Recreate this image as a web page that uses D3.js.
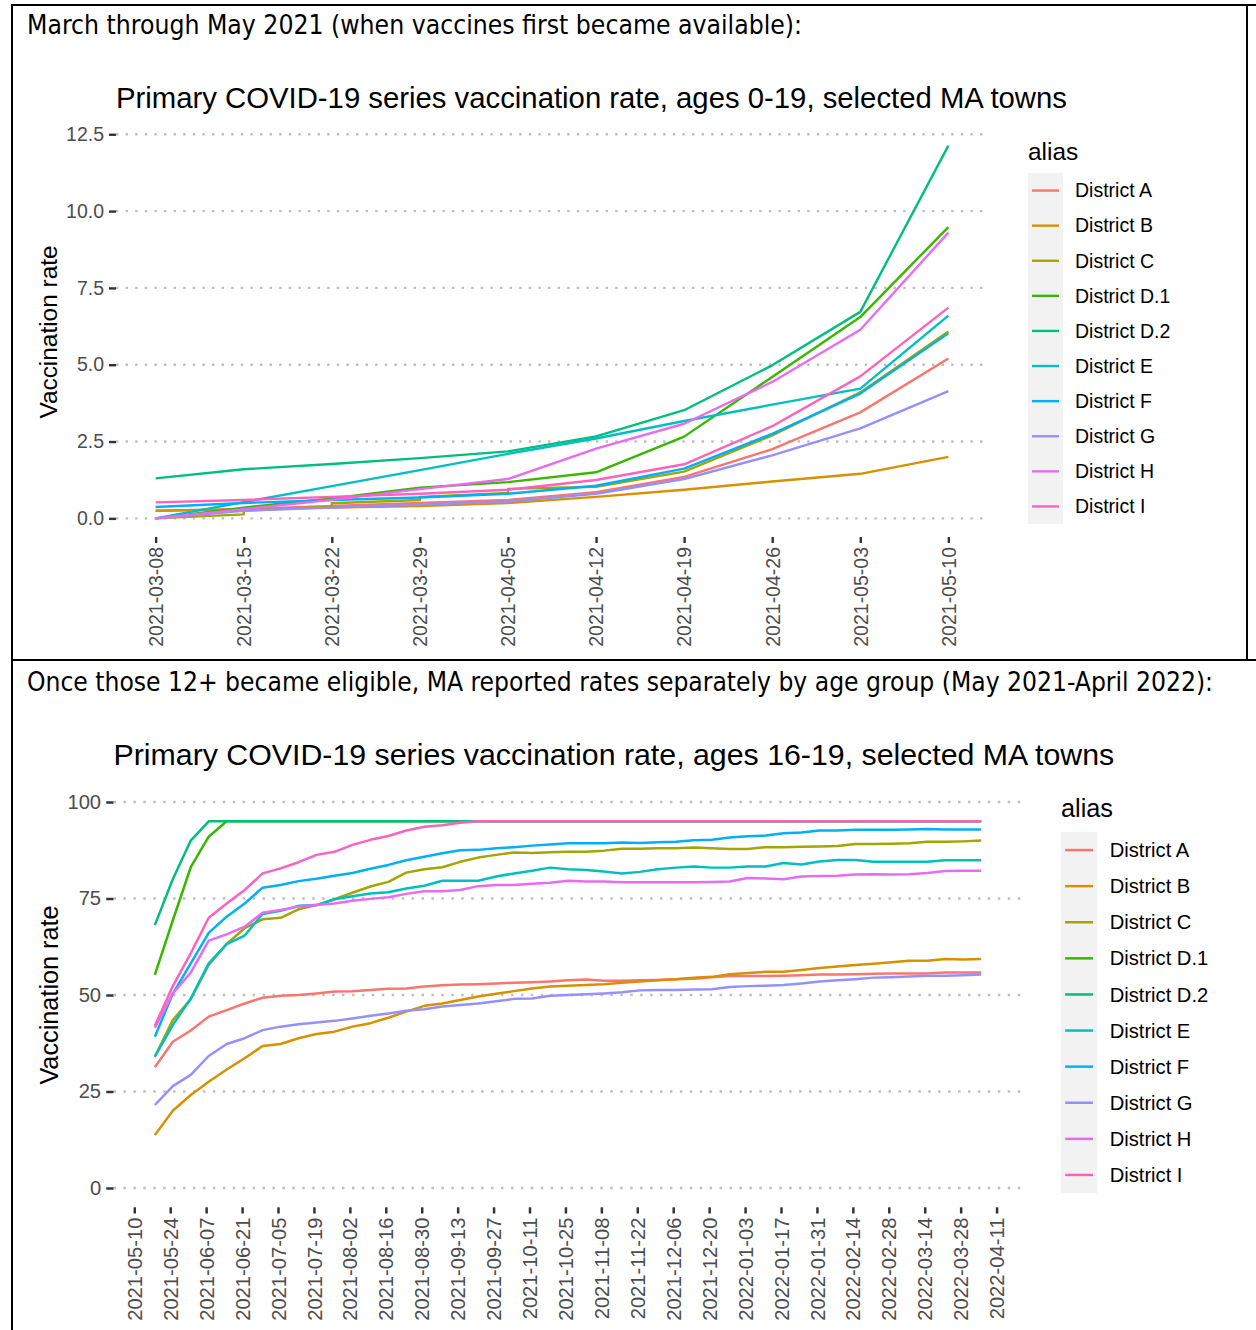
<!DOCTYPE html>
<html>
<head>
<meta charset="utf-8">
<script src="https://cdn.jsdelivr.net/npm/d3@7"></script>
<style>
  body { margin: 0; background: #fff; }
  svg { display: block; font-family: "Liberation Sans", Arial, Helvetica, sans-serif; }
</style>
</head>
<body>
<div id="chart"></div>
<script>
// ---- data ----
const districts = ["District A", "District B", "District C", "District D.1", "District D.2",
  "District E", "District F", "District G", "District H", "District I"];
const palette = ["#F8766D", "#D89000", "#A3A500", "#39B600", "#00BF7D",
  "#00BFC4", "#00B0F6", "#9590FF", "#E76BF3", "#FF62BC"];

// March - May 2021, ages 0-19
const weeksEarly = ["2021-03-08", "2021-03-15", "2021-03-22", "2021-03-29", "2021-04-05",
  "2021-04-12", "2021-04-19", "2021-04-26", "2021-05-03", "2021-05-10"];
const earlyA  = [0.25, 0.30, 0.40, 0.50, 0.60, 0.85, 1.35, 2.25, 3.45, 5.20];
const earlyB  = [0.25, 0.30, 0.35, 0.40, 0.50, 0.70, 0.93, 1.20, 1.45, 2.00];
// District C was reported twice on some dates (little steps)
const earlyCWeeks = ["2021-03-08", "2021-03-15", "2021-03-15", "2021-03-22", "2021-03-22",
  "2021-03-29", "2021-03-29", "2021-04-05", "2021-04-05", "2021-04-12", "2021-04-19",
  "2021-04-26", "2021-05-03", "2021-05-10"];
const earlyC  = [0.00, 0.13, 0.25, 0.38, 0.49, 0.60, 0.70, 0.83, 0.96, 1.03, 1.52, 2.70, 4.10, 6.08];
const earlyD1 = [0.00, 0.35, 0.65, 1.00, 1.18, 1.50, 2.66, 4.60, 6.55, 9.48];
const earlyD2 = [1.30, 1.60, 1.77, 1.96, 2.18, 2.67, 3.52, 4.98, 6.72, 12.13];
const earlyE  = [0.00, 0.53, 1.05, 1.57, 2.10, 2.60, 3.17, 3.70, 4.22, 6.60];
const earlyF  = [0.37, 0.50, 0.60, 0.68, 0.80, 1.06, 1.62, 2.75, 4.06, 6.02];
const earlyG  = [0.00, 0.25, 0.35, 0.45, 0.55, 0.80, 1.28, 2.05, 2.93, 4.14];
const earlyH  = [0.00, 0.30, 0.60, 0.95, 1.28, 2.27, 3.08, 4.44, 6.14, 9.30];
const earlyI  = [0.52, 0.60, 0.70, 0.80, 0.93, 1.25, 1.76, 3.00, 4.62, 6.86];
const earlyYTicks = [0, 2.5, 5, 7.5, 10, 12.5];

// May 2021 - April 2022, ages 16-19
const weeksLate = ["2021-05-18", "2021-05-25", "2021-06-01", "2021-06-08", "2021-06-15",
  "2021-06-22", "2021-06-29", "2021-07-06", "2021-07-13", "2021-07-20", "2021-07-27",
  "2021-08-03", "2021-08-10", "2021-08-17", "2021-08-24", "2021-08-31", "2021-09-07",
  "2021-09-14", "2021-09-21", "2021-09-28", "2021-10-05", "2021-10-12", "2021-10-19",
  "2021-10-26", "2021-11-02", "2021-11-09", "2021-11-16", "2021-11-23", "2021-11-30",
  "2021-12-07", "2021-12-14", "2021-12-21", "2021-12-28", "2022-01-04", "2022-01-11",
  "2022-01-18", "2022-01-25", "2022-02-01", "2022-02-08", "2022-02-15", "2022-02-22",
  "2022-03-01", "2022-03-08", "2022-03-15", "2022-03-22", "2022-03-29", "2022-04-05"];
const lateA  = [31.3, 37.9, 40.8, 44.4, 46.1, 47.8, 49.3, 49.8, 50.0, 50.4, 50.9, 51.0, 51.3, 51.6, 51.7, 52.2,
  52.5, 52.7, 52.8, 53.0, 53.2, 53.3, 53.5, 53.8, 54.0, 53.7, 53.7, 53.8, 53.9, 54.1, 54.2, 54.6,
  54.9, 54.9, 54.9, 55.0, 55.1, 55.3, 55.3, 55.4, 55.5, 55.6, 55.6, 55.6, 55.8, 55.8, 55.8];
const lateB  = [13.7, 20.0, 24.1, 27.5, 30.7, 33.6, 36.8, 37.3, 38.8, 39.9, 40.5, 41.8, 42.7, 44.1, 45.7, 47.2,
  47.8, 48.7, 49.6, 50.3, 51.0, 51.7, 52.2, 52.4, 52.6, 52.8, 53.2, 53.5, 53.8, 54.1, 54.5, 54.7,
  55.4, 55.7, 56.0, 56.0, 56.5, 57.0, 57.4, 57.8, 58.1, 58.5, 58.9, 58.9, 59.3, 59.2, 59.3];
const lateC  = [34.0, 43.5, 48.9, 57.8, 63.2, 67.3, 69.6, 70.0, 72.2, 73.3, 74.8, 76.5, 78.1, 79.3, 81.7, 82.6,
  83.1, 84.5, 85.6, 86.3, 86.9, 86.8, 87.0, 87.1, 87.1, 87.4, 87.9, 87.9, 88.0, 88.0, 88.2, 88.0,
  87.8, 87.8, 88.3, 88.3, 88.4, 88.5, 88.6, 89.1, 89.1, 89.2, 89.3, 89.7, 89.7, 89.8, 90.0];
const lateD1 = [55.2, 69.3, 83.1, 91.0, 95, 95, 95, 95, 95, 95, 95, 95, 95, 95, 95, 95,
  95, 95, 95, 95, 95, 95, 95, 95, 95, 95, 95, 95, 95, 95, 95, 95,
  95, 95, 95, 95, 95, 95, 95, 95, 95, 95, 95, 95, 95, 95, 95];
const lateD2 = [68.1, 80.0, 90.0, 95, 95, 95, 95, 95, 95, 95, 95, 95, 95, 95, 95, 95,
  95, 95, 95, 95, 95, 95, 95, 95, 95, 95, 95, 95, 95, 95, 95, 95,
  95, 95, 95, 95, 95, 95, 95, 95, 95, 95, 95, 95, 95, 95, 95];
const lateE  = [34.0, 42.2, 49.1, 58.2, 63.2, 65.4, 71.0, 71.8, 73.1, 73.3, 74.8, 75.6, 76.3, 76.6, 77.6, 78.3,
  79.6, 79.6, 79.6, 80.7, 81.5, 82.2, 83.0, 82.6, 82.4, 82.0, 81.5, 81.9, 82.6, 83.0, 83.3, 83.0,
  83.0, 83.3, 83.3, 84.2, 83.8, 84.6, 85.0, 85.0, 84.5, 84.5, 84.5, 84.5, 84.9, 84.9, 84.9];
const lateF  = [39.2, 50.3, 58.2, 66.1, 70.3, 73.7, 77.8, 78.5, 79.5, 80.1, 80.9, 81.6, 82.7, 83.7, 84.9, 85.8,
  86.7, 87.5, 87.6, 88.0, 88.3, 88.7, 89.0, 89.3, 89.3, 89.3, 89.5, 89.4, 89.6, 89.7, 90.1, 90.2,
  90.8, 91.1, 91.3, 91.9, 92.1, 92.6, 92.6, 92.8, 92.8, 92.8, 92.9, 93.0, 92.9, 92.9, 92.9];
const lateG  = [21.5, 26.4, 29.3, 34.2, 37.3, 38.8, 40.9, 41.8, 42.4, 42.9, 43.3, 43.9, 44.6, 45.2, 45.9, 46.3,
  47.0, 47.4, 47.8, 48.4, 49.0, 49.1, 49.8, 50.0, 50.2, 50.4, 50.7, 51.2, 51.3, 51.3, 51.4, 51.5,
  52.1, 52.3, 52.4, 52.6, 53.0, 53.5, 53.8, 54.1, 54.5, 54.6, 54.8, 55.0, 55.0, 55.1, 55.3];
const lateH  = [41.5, 50.4, 55.8, 64.1, 65.7, 67.7, 71.3, 72.0, 72.9, 73.3, 73.7, 74.4, 74.9, 75.3, 76.2, 76.9,
  76.9, 77.2, 78.2, 78.5, 78.5, 78.8, 79.1, 79.6, 79.4, 79.4, 79.2, 79.2, 79.2, 79.2, 79.2, 79.3,
  79.4, 80.3, 80.2, 80.0, 80.7, 80.8, 80.9, 81.2, 81.3, 81.2, 81.3, 81.6, 82.1, 82.2, 82.2];
const lateI  = [42.0, 52.3, 60.8, 70.0, 73.7, 77.2, 81.5, 82.8, 84.4, 86.3, 87.1, 88.9, 90.2, 91.2, 92.6, 93.6,
  94.0, 94.6, 95, 95, 95, 95, 95, 95, 95, 95, 95, 95, 95, 95, 95, 95,
  95, 95, 95, 95, 95, 95, 95, 95, 95, 95, 95, 95, 95, 95, 95];
const lateXTicks = ["2021-05-10", "2021-05-24", "2021-06-07", "2021-06-21", "2021-07-05", "2021-07-19",
  "2021-08-02", "2021-08-16", "2021-08-30", "2021-09-13", "2021-09-27", "2021-10-11", "2021-10-25",
  "2021-11-08", "2021-11-22", "2021-12-06", "2021-12-20", "2022-01-03", "2022-01-17", "2022-01-31",
  "2022-02-14", "2022-02-28", "2022-03-14", "2022-03-28", "2022-04-11"];
const lateYTicks = [0, 25, 50, 75, 100];

// ---- page ----
const W = 1256, H = 1330;
const parse = d3.timeParse("%Y-%m-%d");
const fmt = d3.timeFormat("%Y-%m-%d");

const svg = d3.select("#chart").append("svg")
  .attr("width", W)
  .attr("height", H);

// table borders
const border = svg.append("g").attr("stroke", "#000").attr("stroke-width", 2).attr("fill", "none");
border.append("line").attr("x1", 12).attr("x2", W).attr("y1", 5).attr("y2", 5);
border.append("line").attr("x1", 12).attr("x2", W).attr("y1", 660).attr("y2", 660);
border.append("line").attr("x1", 12).attr("x2", 12).attr("y1", 4).attr("y2", H);
border.append("line").attr("x1", 1247).attr("x2", 1247).attr("y1", 4).attr("y2", 660);

// captions (Calibri-like, narrow)
const captionFont = '"Liberation Sans Narrow", "DejaVu Sans Condensed", "Liberation Sans", sans-serif';
svg.append("text")
  .attr("x", 27).attr("y", 34)
  .attr("textLength", 775).attr("lengthAdjust", "spacingAndGlyphs")
  .style("font-family", captionFont).style("font-size", "27px")
  .text("March through May 2021 (when vaccines first became available):");
svg.append("text")
  .attr("x", 27).attr("y", 691)
  .attr("textLength", 1186).attr("lengthAdjust", "spacingAndGlyphs")
  .style("font-family", captionFont).style("font-size", "27px")
  .text("Once those 12+ became eligible, MA reported rates separately by age group (May 2021-April 2022):");

function buildSeries(datesList, valuesList) {
  return districts.map((name, i) => ({
    name,
    color: palette[i],
    points: valuesList[i].map((v, j) => ({ date: parse(datesList[i][j]), v }))
  }));
}

function drawPanel(o) {
  const s = o.scale;
  const g = svg.append("g");

  const allDates = o.series.flatMap(d => d.points.map(p => p.date));
  const [d0, d1] = d3.extent(allDates);
  const pad = (d1 - d0) * 0.05;
  const x = d3.scaleTime()
    .domain([new Date(+d0 - pad), new Date(+d1 + pad)])
    .range([o.left, o.right]);

  const yLo = o.yMin, yHi = o.yMax;
  const ypad = (yHi - yLo) * 0.05;
  const y = d3.scaleLinear()
    .domain([yLo - ypad, yHi + ypad])
    .range([o.bottom, o.top]);

  const lw = 2.4 * s;

  // dotted major grid (y only)
  g.append("g").selectAll("line")
    .data(o.yTicks)
    .join("line")
    .attr("x1", o.left).attr("x2", o.right)
    .attr("y1", d => y(d)).attr("y2", d => y(d))
    .attr("stroke", "#bebebe")
    .attr("stroke-width", lw)
    .attr("stroke-dasharray", `${lw} ${lw * 3}`);

  // y axis
  g.append("g")
    .attr("transform", `translate(${o.left},0)`)
    .call(d3.axisLeft(y).tickValues(o.yTicks).tickFormat(o.yFormat).tickSize(7 * s).tickPadding(5 * s))
    .call(a => a.select(".domain").remove())
    .call(a => a.selectAll("line").attr("stroke", "#333").attr("stroke-width", lw))
    .call(a => a.selectAll("text")
      .attr("fill", "#4d4d4d")
      .style("font-size", `${19.5 * s}px`)
      .style("font-family", "inherit"));

  // x axis, vertical labels
  const xTickDates = o.xTicks.map(parse);
  g.append("g")
    .attr("transform", `translate(0,${o.bottom})`)
    .call(d3.axisBottom(x).tickValues(xTickDates).tickFormat(fmt).tickSize(6 * s).tickPadding(4 * s))
    .call(a => a.select(".domain").remove())
    .call(a => a.selectAll("line").attr("stroke", "#333").attr("stroke-width", lw))
    .call(a => a.selectAll("text")
      .attr("fill", "#4d4d4d")
      .style("font-size", `${19.5 * s}px`)
      .style("font-family", "inherit")
      .attr("transform", "rotate(-90)")
      .attr("text-anchor", "end")
      .attr("x", -10 * s)
      .attr("y", 0)
      .attr("dy", "0.35em"));

  // lines
  const line = d3.line()
    .x(p => x(p.date))
    .y(p => y(p.v));
  g.append("g").selectAll("path")
    .data(o.series)
    .join("path")
    .attr("d", d => line(d.points))
    .attr("fill", "none")
    .attr("stroke", d => d.color)
    .attr("stroke-width", lw)
    .attr("stroke-linejoin", "round");

  // title
  g.append("text")
    .attr("x", o.left).attr("y", o.titleY)
    .style("font-size", `${29.3 * s}px`)
    .attr("fill", "#000")
    .text(o.title);

  // y axis title
  g.append("text")
    .attr("transform", `translate(${o.yTitleX},${(o.top + o.bottom) / 2}) rotate(-90)`)
    .attr("text-anchor", "middle")
    .style("font-size", `${24.4 * s}px`)
    .attr("fill", "#000")
    .text("Vaccination rate");

  // legend
  const leg = g.append("g");
  const keyW = 35 * s, step = o.legStep;
  leg.append("text")
    .attr("x", o.legX).attr("y", o.legTitleY)
    .style("font-size", `${24.4 * s}px`)
    .attr("fill", "#000")
    .text("alias");
  leg.append("rect")
    .attr("x", o.legX).attr("y", o.legTop)
    .attr("width", keyW).attr("height", step * o.series.length)
    .attr("fill", "#f2f2f2");
  const item = leg.selectAll("g.item")
    .data(o.series)
    .join("g")
    .attr("class", "item")
    .attr("transform", (d, i) => `translate(${o.legX},${o.legTop + step * (i + 0.5)})`);
  item.append("line")
    .attr("x1", 4 * s).attr("x2", keyW - 4 * s)
    .attr("stroke", d => d.color)
    .attr("stroke-width", lw);
  item.append("text")
    .attr("x", 47 * s)
    .attr("dy", "0.35em")
    .style("font-size", `${19.5 * s}px`)
    .attr("fill", "#000")
    .text(d => d.name);
}

const earlyDates = districts.map((d, i) => i === 2 ? earlyCWeeks : weeksEarly);
const earlySeries = buildSeries(earlyDates,
  [earlyA, earlyB, earlyC, earlyD1, earlyD2, earlyE, earlyF, earlyG, earlyH, earlyI]);

drawPanel({
  series: earlySeries,
  scale: 1,
  left: 116, right: 988, top: 127, bottom: 537,
  yMin: 0, yMax: d3.max(earlySeries, d => d3.max(d.points, p => p.v)),
  yTicks: earlyYTicks, yFormat: d3.format(".1f"),
  xTicks: weeksEarly,
  title: "Primary COVID-19 series vaccination rate, ages 0-19, selected MA towns",
  titleY: 108,
  yTitleX: 57,
  legX: 1028, legTitleY: 160, legTop: 173, legStep: 35.1
});

const lateSeries = buildSeries(districts.map(() => weeksLate),
  [lateA, lateB, lateC, lateD1, lateD2, lateE, lateF, lateG, lateH, lateI]);

drawPanel({
  series: lateSeries,
  scale: 1.035,
  left: 113.5, right: 1022.5, top: 782.7, bottom: 1207.3,
  yMin: 0, yMax: 100,
  yTicks: lateYTicks, yFormat: d3.format("d"),
  xTicks: lateXTicks,
  title: "Primary COVID-19 series vaccination rate, ages 16-19, selected MA towns",
  titleY: 765,
  yTitleX: 58,
  legX: 1061, legTitleY: 817, legTop: 832, legStep: 36.1
});
</script>
</body>
</html>
